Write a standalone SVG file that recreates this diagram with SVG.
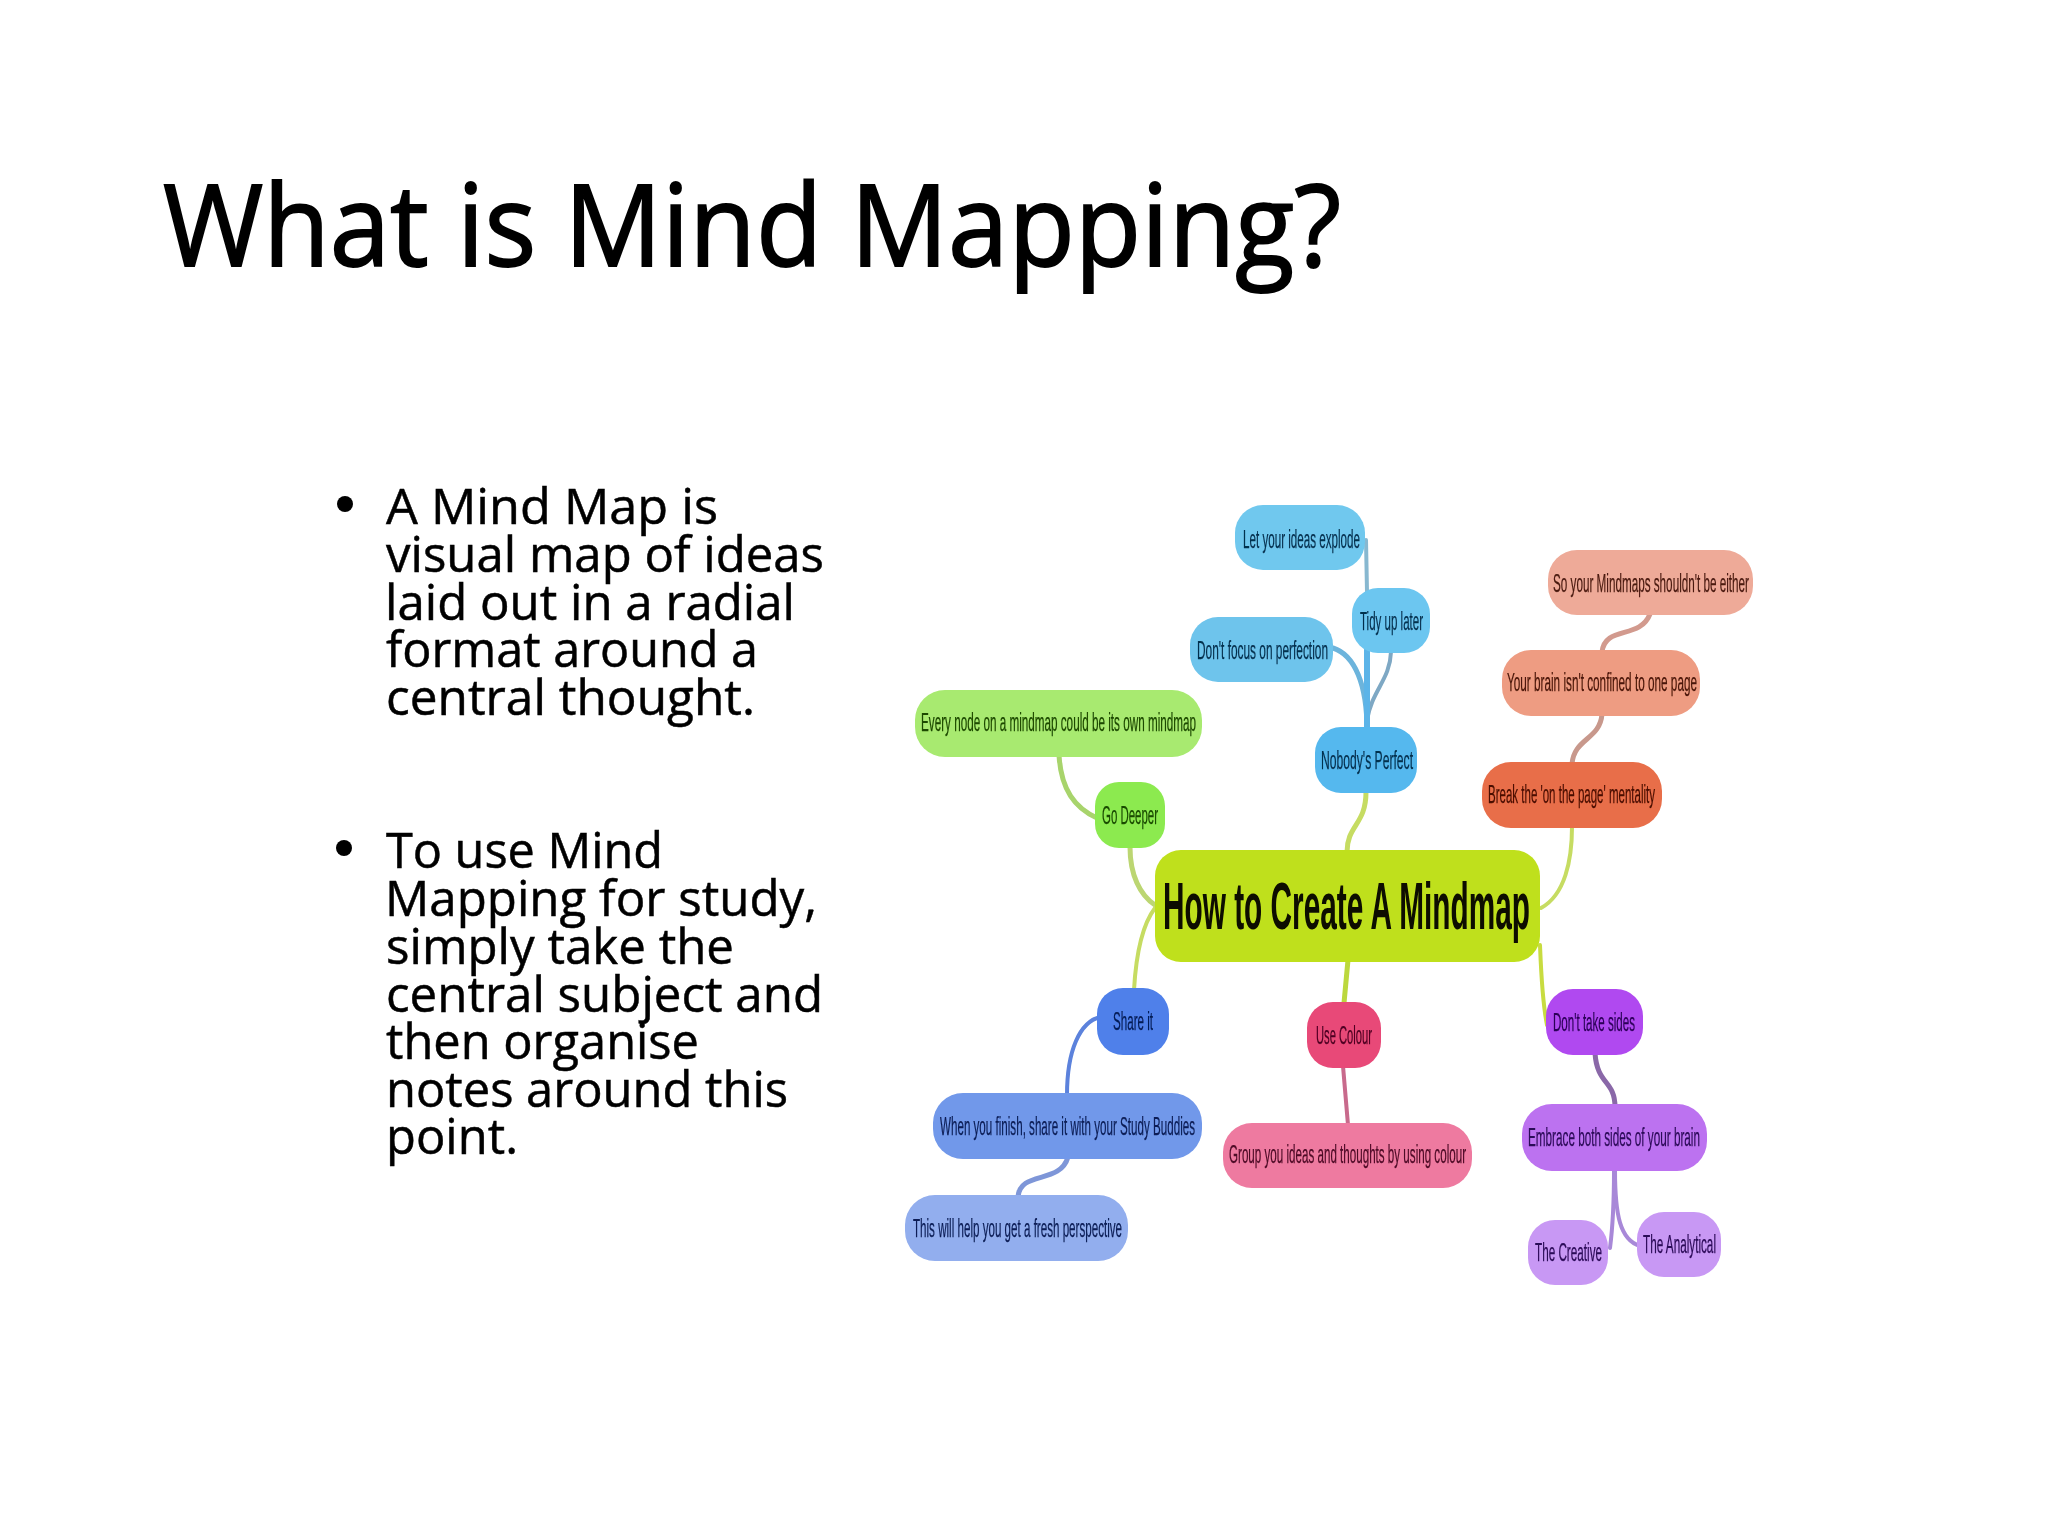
<svg xmlns="http://www.w3.org/2000/svg" width="2048" height="1536" viewBox="0 0 2048 1536">
<defs>
<style>
.t{font-family:"Open Sans","Noto Sans",sans-serif;fill:#000;stroke:#000}
.b{font-size:49px;stroke-width:.5px}
.n{font-family:"Liberation Sans",Arial,sans-serif;font-size:26px;stroke:currentColor;stroke-width:.25px}
.c{fill:none;stroke-linecap:round}
</style>
<filter id="soft" x="-5%" y="-5%" width="110%" height="110%"><feGaussianBlur stdDeviation="0.7"/></filter>
</defs>
<rect width="2048" height="1536" fill="#fff"/>
<g id="slide-text">
<text class="t" x="163" y="266" font-size="114" stroke-width="1.8" textLength="1178" lengthAdjust="spacingAndGlyphs">What is Mind Mapping?</text>
<circle cx="345" cy="504" r="8" fill="#000"/>
<text class="t b" x="386" y="524" textLength="332" lengthAdjust="spacingAndGlyphs">A Mind Map is</text>
<text class="t b" x="386" y="572" textLength="438" lengthAdjust="spacingAndGlyphs">visual map of ideas</text>
<text class="t b" x="385" y="620" textLength="410" lengthAdjust="spacingAndGlyphs">laid out in a radial</text>
<text class="t b" x="386" y="667" textLength="372" lengthAdjust="spacingAndGlyphs">format around a</text>
<text class="t b" x="386" y="715" textLength="369" lengthAdjust="spacingAndGlyphs">central thought.</text>
<circle cx="344" cy="848" r="8" fill="#000"/>
<text class="t b" x="386" y="868" textLength="277" lengthAdjust="spacingAndGlyphs">To use Mind</text>
<text class="t b" x="385" y="916" textLength="432" lengthAdjust="spacingAndGlyphs">Mapping for study,</text>
<text class="t b" x="386" y="964" textLength="348" lengthAdjust="spacingAndGlyphs">simply take the</text>
<text class="t b" x="386" y="1012" textLength="437" lengthAdjust="spacingAndGlyphs">central subject and</text>
<text class="t b" x="386" y="1059" textLength="313" lengthAdjust="spacingAndGlyphs">then organise</text>
<text class="t b" x="386" y="1107" textLength="402" lengthAdjust="spacingAndGlyphs">notes around this</text>
<text class="t b" x="386" y="1154" textLength="132" lengthAdjust="spacingAndGlyphs">point.</text>
</g>
<g filter="url(#soft)">
<g id="connectors" class="c">
<path class="c" stroke="#c6dc62" stroke-width="5" d="M1347 852C1347 825 1366 825 1366 792"/>
<path class="c" stroke="#c6dc62" stroke-width="4" d="M1541 908C1565 895 1572 860 1572 827"/>
<path class="c" stroke="#bcd672" stroke-width="5" d="M1130 847C1130 875 1140 895 1155 905"/>
<path class="c" stroke="#c6dc62" stroke-width="4" d="M1155 908C1142 925 1136 955 1134 990"/>
<path class="c" stroke="#bcd83c" stroke-width="5" d="M1348 960L1344 1003"/>
<path class="c" stroke="#c8dc40" stroke-width="4" d="M1540 945C1541 970 1542 1000 1547 1025"/>
<path class="c" stroke="#a8d46c" stroke-width="5" d="M1059 755C1061 790 1075 808 1097 818"/>
<path class="c" stroke="#88b8d0" stroke-width="4" d="M1366 540L1367 592"/>
<path class="c" stroke="#6cb4dc" stroke-width="5" d="M1333 648C1355 655 1367 685 1367 730"/>
<path class="c" stroke="#7ea8c4" stroke-width="4" d="M1391 652C1390 680 1372 690 1367 720"/>
<path class="c" stroke="#5cb4e8" stroke-width="6" d="M1367 650L1367 730"/>
<path class="c" stroke="#d29a8e" stroke-width="5" d="M1650 614C1640 640 1605 625 1602 652"/>
<path class="c" stroke="#c8988c" stroke-width="5" d="M1602 714C1600 740 1574 738 1572 764"/>
<path class="c" stroke="#5b82dc" stroke-width="4" d="M1100 1017C1080 1022 1067 1050 1067 1095"/>
<path class="c" stroke="#7e96d8" stroke-width="5" d="M1068 1157C1060 1185 1020 1170 1018 1197"/>
<path class="c" stroke="#c86a8c" stroke-width="4" d="M1343 1066L1348 1125"/>
<path class="c" stroke="#8a68a8" stroke-width="5" d="M1595 1053C1597 1085 1615 1080 1615 1107"/>
<path class="c" stroke="#a888d8" stroke-width="4" d="M1614 1170C1614 1200 1613 1225 1610 1248"/>
<path class="c" stroke="#a888d8" stroke-width="4" d="M1615 1170C1615 1215 1620 1240 1640 1246"/>
</g>
<g id="node-center"><rect x="1155" y="850" width="385" height="112" rx="26" fill="#bfe01a"/><text x="1163" y="929" font-family="Liberation Sans,Arial,sans-serif" font-weight="700" font-size="66" fill="#0a0a00" textLength="367" lengthAdjust="spacingAndGlyphs">How to Create A Mindmap</text></g>
<g id="node-every"><rect x="915" y="690" width="287" height="67" rx="30" fill="#a8ea70"/><text class="n" x="921" y="731" fill="#1e4a00" color="#1e4a00" textLength="275" lengthAdjust="spacingAndGlyphs">Every node on a mindmap could be its own mindmap</text></g>
<g id="node-go-deeper"><rect x="1095" y="782" width="70" height="66" rx="24" fill="#8cea50"/><text class="n" x="1102" y="824" fill="#1a4a00" color="#1a4a00" textLength="56" lengthAdjust="spacingAndGlyphs">Go Deeper</text></g>
<g id="node-let"><rect x="1235" y="505" width="130" height="65" rx="28" fill="#70c8ee"/><text class="n" x="1243" y="548" fill="#06304e" color="#06304e" textLength="117" lengthAdjust="spacingAndGlyphs">Let your ideas explode</text></g>
<g id="node-focus"><rect x="1190" y="617" width="143" height="65" rx="28" fill="#6ec4ec"/><text class="n" x="1197" y="659" fill="#06304e" color="#06304e" textLength="131" lengthAdjust="spacingAndGlyphs">Don't focus on perfection</text></g>
<g id="node-tidy"><rect x="1352" y="588" width="78" height="65" rx="26" fill="#6cc6f0"/><text class="n" x="1360" y="630" fill="#06304e" color="#06304e" textLength="63" lengthAdjust="spacingAndGlyphs">Tidy up later</text></g>
<g id="node-nobody"><rect x="1315" y="727" width="102" height="66" rx="26" fill="#54b8ee"/><text class="n" x="1321" y="769" fill="#06304e" color="#06304e" textLength="92" lengthAdjust="spacingAndGlyphs">Nobody's Perfect</text></g>
<g id="node-so"><rect x="1548" y="550" width="205" height="65" rx="29" fill="#eeaa98"/><text class="n" x="1553" y="592" fill="#4a1a10" color="#4a1a10" textLength="196" lengthAdjust="spacingAndGlyphs">So your Mindmaps shouldn't be either</text></g>
<g id="node-brain"><rect x="1502" y="650" width="198" height="66" rx="29" fill="#ee9c82"/><text class="n" x="1507" y="691" fill="#4a1608" color="#4a1608" textLength="190" lengthAdjust="spacingAndGlyphs">Your brain isn't confined to one page</text></g>
<g id="node-break"><rect x="1482" y="762" width="180" height="66" rx="29" fill="#e86e48"/><text class="n" x="1488" y="803" fill="#4a0e00" color="#4a0e00" textLength="167" lengthAdjust="spacingAndGlyphs">Break the 'on the page' mentality</text></g>
<g id="node-share"><rect x="1097" y="988" width="72" height="67" rx="26" fill="#4f80ea"/><text class="n" x="1113" y="1030" fill="#061c56" color="#061c56" textLength="40" lengthAdjust="spacingAndGlyphs">Share it</text></g>
<g id="node-when"><rect x="933" y="1093" width="269" height="66" rx="30" fill="#7198ea"/><text class="n" x="940" y="1135" fill="#0c1e56" color="#0c1e56" textLength="255" lengthAdjust="spacingAndGlyphs">When you finish, share it with your Study Buddies</text></g>
<g id="node-this"><rect x="905" y="1195" width="223" height="66" rx="30" fill="#92aeee"/><text class="n" x="913" y="1237" fill="#0c1e56" color="#0c1e56" textLength="209" lengthAdjust="spacingAndGlyphs">This will help you get a fresh perspective</text></g>
<g id="node-colour"><rect x="1307" y="1002" width="74" height="66" rx="26" fill="#e84878"/><text class="n" x="1316" y="1044" fill="#4e0022" color="#4e0022" textLength="56" lengthAdjust="spacingAndGlyphs">Use Colour</text></g>
<g id="node-group"><rect x="1223" y="1123" width="249" height="65" rx="29" fill="#ee7aa0"/><text class="n" x="1229" y="1163" fill="#4e0a26" color="#4e0a26" textLength="237" lengthAdjust="spacingAndGlyphs">Group you ideas and thoughts by using colour</text></g>
<g id="node-sides"><rect x="1546" y="989" width="97" height="66" rx="27" fill="#b048f0"/><text class="n" x="1553" y="1031" fill="#2c0058" color="#2c0058" textLength="82" lengthAdjust="spacingAndGlyphs">Don't take sides</text></g>
<g id="node-embrace"><rect x="1522" y="1104" width="185" height="67" rx="30" fill="#bc72f0"/><text class="n" x="1528" y="1146" fill="#2c0a58" color="#2c0a58" textLength="172" lengthAdjust="spacingAndGlyphs">Embrace both sides of your brain</text></g>
<g id="node-creative"><rect x="1528" y="1220" width="80" height="65" rx="27" fill="#c898f4"/><text class="n" x="1535" y="1261" fill="#2c0a58" color="#2c0a58" textLength="67" lengthAdjust="spacingAndGlyphs">The Creative</text></g>
<g id="node-analytical"><rect x="1637" y="1212" width="84" height="65" rx="27" fill="#c898f4"/><text class="n" x="1643" y="1253" fill="#2c0a58" color="#2c0a58" textLength="73" lengthAdjust="spacingAndGlyphs">The Analytical</text></g>
</g>
</svg>
